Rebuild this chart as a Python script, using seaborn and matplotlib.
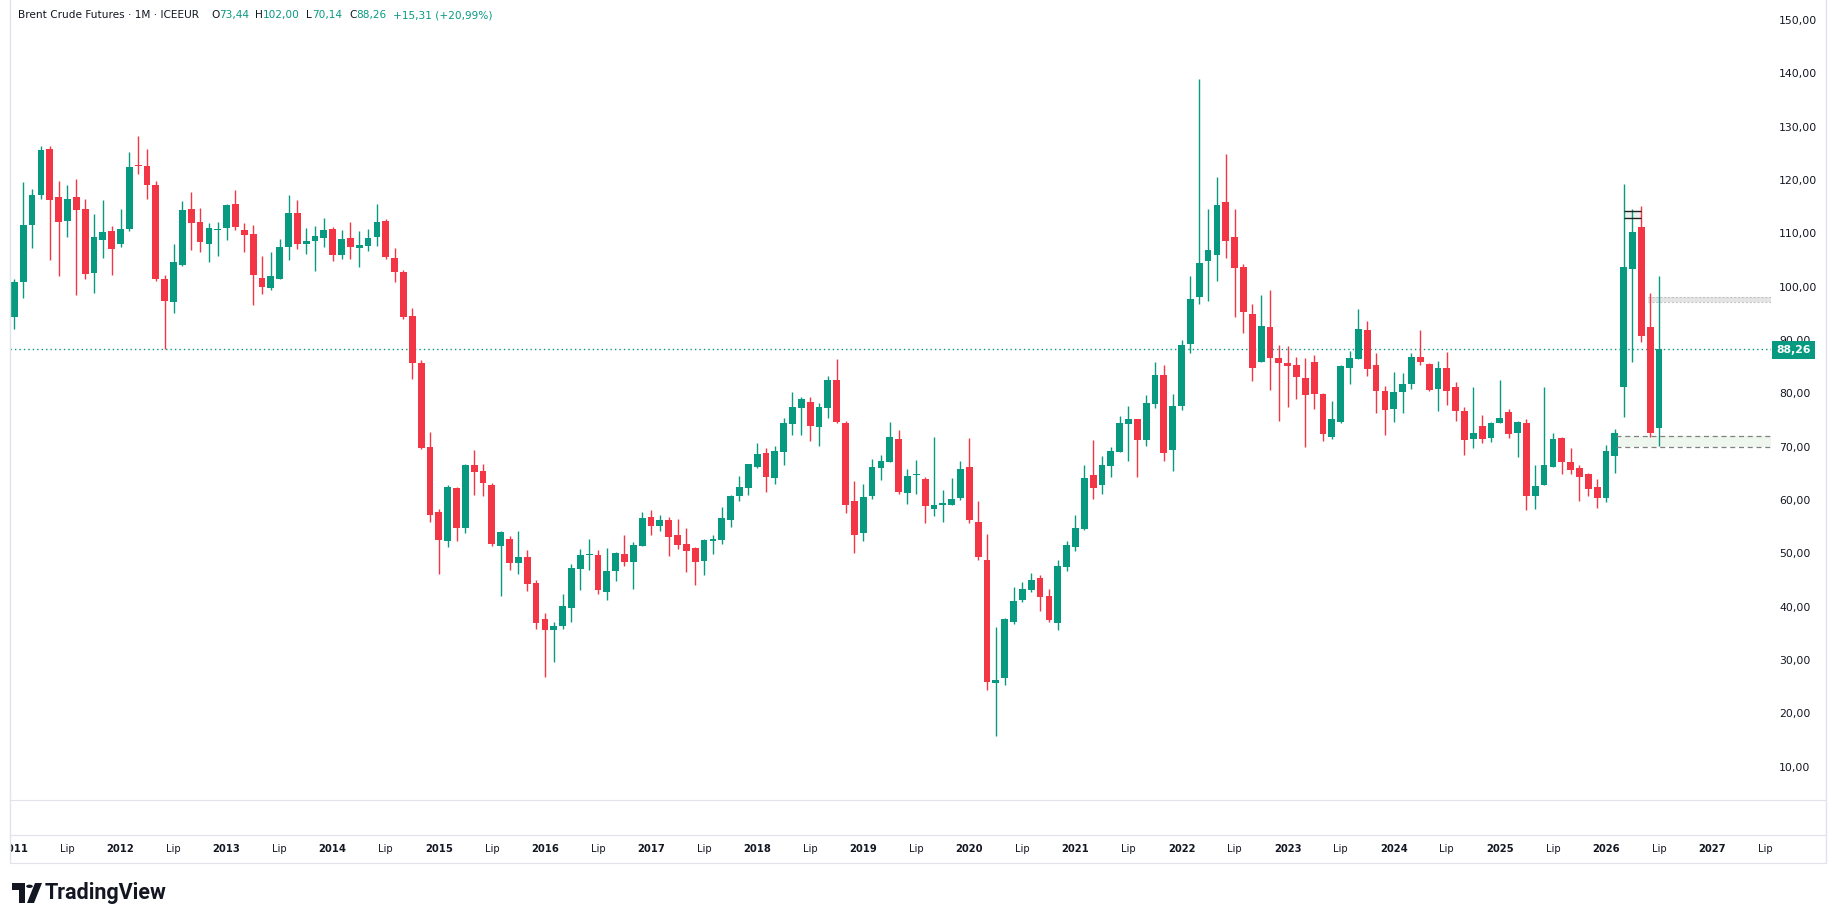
import numpy as np
import pandas as pd
import matplotlib
matplotlib.use('Agg')
import matplotlib.pyplot as plt
from matplotlib.patches import Rectangle, Polygon, Circle
import seaborn as sns

# Brent monthly candles, Jan 2011 .. Jul 2026
start_year = 2011
opens = [94.4, 100.8, 111.6, 117.2, 125.8, 116.8, 112.4, 116.8, 114.6, 102.6, 108.8, 110.4,
         108.0, 110.8, 122.9, 122.6, 119.1, 101.4, 97.1, 104.1, 114.6, 112.1, 108.0, 110.7,
         111.0, 115.5, 110.6, 109.9, 101.6, 99.8, 101.4, 107.4, 113.8, 108.0, 108.6, 109.1,
         110.8, 105.9, 109.1, 107.3, 107.6, 109.3, 112.3, 105.4, 102.8, 94.5, 85.7, 69.9,
         57.8, 52.3, 62.3, 54.8, 66.6, 65.4, 62.8, 51.3, 52.7, 48.1, 49.3, 44.4,
         37.7, 35.6, 36.3, 39.8, 47.1, 49.6, 49.7, 42.8, 46.6, 49.9, 48.4, 51.4,
         56.8, 55.1, 56.3, 53.4, 51.8, 51.0, 48.6, 52.4, 52.5, 56.3, 60.8, 62.3,
         66.2, 68.8, 64.1, 69.0, 74.3, 77.3, 78.4, 73.7, 77.3, 82.5, 74.4, 59.8,
         53.8, 60.8, 66.0, 67.1, 71.4, 61.3, 64.7, 63.9, 58.3, 59.1, 59.1, 60.4,
         66.2, 55.9, 48.8, 25.7, 26.6, 37.1, 41.3, 43.1, 45.4, 42.0, 36.9, 47.5,
         51.2, 54.6, 64.7, 62.9, 66.4, 69.0, 74.3, 75.2, 71.3, 78.0, 83.4, 69.4,
         77.6, 89.3, 98.0, 104.8, 105.9, 115.8, 109.3, 103.7, 94.9, 85.8, 92.4, 86.6,
         85.7, 85.3, 82.9, 85.9, 79.9, 71.9, 74.6, 84.8, 86.4, 91.9, 85.3, 80.4,
         77.1, 80.3, 81.8, 86.8, 85.5, 80.9, 84.8, 81.2, 76.7, 71.5, 73.9, 71.7,
         74.4, 76.5, 72.6, 74.4, 60.8, 62.8, 66.2, 71.6, 67.1, 66.0, 64.9, 62.4,
         60.4, 68.3, 81.2, 103.3, 111.2, 92.4, 73.44]
highs = [101.4, 119.6, 118.3, 126.4, 126.4, 119.8, 119.1, 120.2, 116.4, 113.6, 116.3, 111.4,
         114.6, 125.3, 128.3, 125.8, 119.8, 102.2, 108.0, 116.1, 117.8, 114.8, 111.9, 112.1,
         115.5, 118.1, 111.9, 111.6, 105.8, 106.5, 108.9, 117.2, 116.3, 111.0, 111.4, 112.9,
         111.2, 110.6, 112.1, 110.4, 110.8, 115.5, 112.7, 107.3, 103.1, 96.0, 86.2, 72.8,
         58.3, 62.8, 62.5, 66.8, 69.4, 66.8, 63.2, 54.2, 53.3, 54.2, 50.6, 45.0,
         38.8, 37.1, 42.4, 48.0, 50.8, 52.7, 50.6, 51.0, 50.3, 53.4, 52.1, 57.8,
         58.1, 57.2, 56.8, 56.4, 54.8, 51.2, 52.7, 53.4, 58.7, 60.9, 64.5, 66.8,
         70.7, 69.8, 70.1, 75.4, 80.3, 79.3, 79.3, 78.2, 83.3, 86.4, 74.8, 63.6,
         63.0, 67.7, 68.4, 74.6, 73.1, 65.8, 67.5, 64.3, 71.8, 61.9, 64.1, 67.3,
         71.6, 59.8, 53.6, 36.2, 37.9, 43.7, 44.6, 46.3, 45.9, 43.3, 48.8, 52.3,
         57.2, 66.6, 71.2, 68.2, 69.9, 75.7, 77.6, 75.2, 79.7, 85.8, 85.3, 79.9,
         90.0, 102.0, 139.0, 114.6, 120.5, 124.9, 114.6, 104.3, 96.8, 98.4, 99.4, 89.1,
         88.9, 86.8, 86.6, 87.2, 80.1, 78.6, 85.3, 87.9, 95.8, 93.6, 87.6, 81.4,
         84.0, 83.8, 87.6, 91.9, 85.7, 86.1, 87.8, 82.1, 77.5, 81.1, 75.9, 74.6,
         82.5, 77.1, 74.8, 75.2, 66.6, 81.2, 72.6, 71.8, 69.8, 66.6, 65.1, 63.9,
         70.3, 73.3, 119.3, 114.6, 115.1, 98.8, 102.0]
lows = [92.1, 97.9, 107.3, 116.5, 105.0, 102.0, 109.4, 98.4, 101.4, 98.8, 105.4, 102.2,
        107.5, 110.5, 121.1, 116.4, 101.0, 88.3, 95.1, 103.9, 106.9, 106.5, 104.6, 105.8,
        108.8, 110.6, 106.5, 96.6, 98.6, 99.4, 101.4, 105.0, 107.1, 106.1, 102.9, 107.4,
        104.8, 105.2, 105.2, 103.7, 106.7, 107.6, 105.2, 100.9, 93.9, 82.7, 69.6, 55.8,
        46.1, 51.2, 52.3, 53.8, 60.9, 60.8, 51.4, 42.0, 46.9, 46.1, 43.0, 35.9,
        26.9, 29.7, 35.9, 37.2, 43.2, 46.8, 42.4, 41.3, 44.9, 47.7, 43.4, 51.4,
        53.4, 54.2, 49.5, 50.8, 46.5, 44.1, 45.9, 49.9, 51.8, 54.9, 59.8, 60.9,
        66.0, 61.5, 63.0, 66.6, 72.2, 72.2, 71.1, 70.1, 75.4, 74.4, 57.6, 50.1,
        52.3, 60.2, 63.8, 67.1, 61.1, 59.3, 61.1, 55.7, 57.0, 55.9, 59.1, 60.0,
        55.7, 48.8, 24.4, 15.8, 25.3, 36.8, 40.9, 42.8, 39.2, 37.1, 35.6, 46.7,
        50.5, 54.4, 60.1, 61.2, 64.3, 69.0, 67.4, 64.3, 70.2, 77.3, 67.4, 65.5,
        76.9, 87.6, 96.8, 97.3, 101.1, 105.4, 94.3, 91.3, 82.3, 85.8, 80.7, 74.9,
        77.5, 79.0, 70.0, 77.1, 71.1, 71.5, 74.5, 81.8, 86.4, 83.3, 76.4, 72.1,
        74.7, 76.4, 80.9, 85.4, 80.5, 76.6, 77.9, 74.9, 68.5, 69.8, 70.6, 70.8,
        74.4, 71.6, 68.1, 58.1, 58.3, 62.8, 66.2, 64.9, 64.9, 59.8, 60.8, 58.5,
        59.6, 65.1, 75.6, 85.9, 89.6, 71.8, 70.14]
closes = [100.8, 111.6, 117.2, 125.6, 116.3, 112.2, 116.4, 114.4, 102.4, 109.3, 110.3, 107.1,
          110.8, 122.4, 122.7, 119.1, 101.4, 97.3, 104.6, 114.4, 111.9, 108.4, 111.0, 110.9,
          115.3, 111.1, 109.7, 102.1, 99.9, 102.0, 107.4, 113.8, 108.0, 108.6, 109.5, 110.6,
          105.9, 108.9, 107.4, 107.8, 109.1, 112.1, 105.6, 102.8, 94.3, 85.6, 69.8, 57.1,
          52.5, 62.4, 54.8, 66.6, 65.3, 63.2, 51.8, 54.0, 48.1, 49.3, 44.3, 37.0,
          35.7, 36.4, 40.1, 47.3, 49.7, 49.7, 43.2, 46.7, 50.1, 48.3, 51.6, 56.6,
          55.1, 56.3, 53.1, 51.6, 50.4, 48.4, 52.5, 52.6, 56.6, 60.8, 62.4, 66.8,
          68.6, 64.3, 69.2, 74.4, 77.4, 78.9, 73.9, 77.4, 82.5, 74.6, 59.1, 53.4,
          60.6, 66.2, 67.3, 71.8, 61.5, 64.5, 64.9, 58.9, 59.1, 59.4, 60.2, 65.8,
          56.3, 49.3, 25.9, 26.3, 37.7, 41.1, 43.3, 45.0, 41.8, 37.5, 47.6, 51.5,
          54.8, 64.1, 62.3, 66.6, 69.2, 74.5, 75.2, 71.3, 78.2, 83.4, 68.8, 77.6,
          89.1, 97.7, 104.5, 106.9, 115.3, 108.5, 103.5, 95.2, 84.8, 92.6, 86.6, 85.6,
          85.1, 83.1, 79.6, 79.9, 72.3, 75.2, 85.1, 86.6, 92.1, 84.6, 80.5, 76.8,
          80.3, 81.8, 86.8, 85.9, 80.7, 84.8, 80.5, 76.6, 71.3, 72.6, 71.5, 74.4,
          75.4, 72.4, 74.6, 60.8, 62.6, 66.6, 71.4, 67.1, 65.6, 64.3, 62.1, 60.4,
          69.2, 72.6, 103.7, 110.3, 90.8, 72.5, 88.26]

y_ticks = [10, 20, 30, 40, 50, 60, 70, 80, 90, 100, 110, 120, 130, 140, 150]
last_year = 2027
mid_label = 'Lip'
last_price = 88.26
header_name = 'Brent Crude Futures \u00b7 1M \u00b7 ICEEUR'
header_ohlc = [('O', '73,44'), ('H', '102,00'), ('L', '70,14'), ('C', '88,26')]
header_change = '+15,31 (+20,99%)'
# drawn levels near the right edge
grey_zone = (97.2, 98.1)
green_zone = (69.9, 72.0)
marker_zone = (112.8, 114.1)

W, H = 1835, 923
UP, DOWN = '#089981', '#F23645'
TXT = '#131722'
BORDER = '#e0e3eb'
X0, STEP = 14.4, 8.842          # pixel centre of first candle, pixels per month

sns.set_theme(style='white')
plt.rcParams['font.family'] = ['DejaVu Sans']

df = pd.DataFrame({'open': opens, 'high': highs, 'low': lows, 'close': closes})
df['idx'] = np.arange(len(df))
df['color'] = np.where(df['close'] >= df['open'], UP, DOWN)
df['body_lo'] = df[['open', 'close']].min(axis=1)
df['body_h'] = (df['close'] - df['open']).abs().clip(lower=0.2)


def px2idx(px):
    return (px - X0) / STEP


def fax(l, t, r, b):
    return fig.add_axes([l / W, 1 - b / H, (r - l) / W, (b - t) / H])


fig = plt.figure(figsize=(W / 100, H / 100), dpi=100)
fig.patch.set_facecolor('white')

# main pane
ax = fax(10, 0, 1771, 800)
ax.set_facecolor('white')
ax.vlines(df['idx'], df['low'], df['high'], colors=df['color'], linewidth=1.0, zorder=2)
ax.bar(df['idx'], df['body_h'], bottom=df['body_lo'], width=0.77, color=df['color'],
       linewidth=0, zorder=3)
ax.set_xlim(px2idx(10), px2idx(1771))
ax.set_ylim(3.75, 153.75)
for s in ax.spines.values():
    s.set_visible(False)
ax.set_xticks([])
ax.yaxis.tick_right()
ax.set_yticks(y_ticks)
ax.set_yticklabels([f'{v:.2f}'.replace('.', ',') for v in y_ticks])
ax.tick_params(axis='y', length=0, pad=5.8, labelsize=7.8, labelcolor=TXT)
ax.grid(False)

# last price line + zones
n = len(df)
ax.axhline(last_price, color=UP, linewidth=1.0, linestyle=(0, (1, 2.2)), zorder=1)
xe = px2idx(1771)
gz0 = px2idx(1648)
ax.fill_between([gz0, xe], grey_zone[0], grey_zone[1], color='#e4e4e4', linewidth=0, zorder=1)
ax.hlines(grey_zone, gz0, xe, colors='#c4c4c4', linewidth=0.8, linestyles=(0, (2, 1.5)), zorder=1)
zz0 = px2idx(1616)
ax.fill_between([zz0, xe], green_zone[0], green_zone[1], color='#eef6ee', linewidth=0, zorder=1)
ax.hlines(green_zone, zz0, xe, colors='#808080', linewidth=0.9, linestyles=(0, (4, 3)), zorder=4)
ax.fill_between([n - 5, n - 3], marker_zone[0], marker_zone[1], color='#eeeeee', linewidth=0, zorder=1)
ax.hlines(marker_zone, n - 5, n - 3, colors='#222222', linewidth=1.0, zorder=4)

# price tag
fig.patches.append(Rectangle((1772 / W, 1 - 359 / H), 43 / W, 18 / H, transform=fig.transFigure,
                             facecolor=UP, edgecolor='none', zorder=10))
fig.text(1793.5 / W, 1 - 350 / H, f'{last_price:.2f}'.replace('.', ','), color='white',
         fontsize=7.8, fontweight='bold', ha='center', va='center', zorder=11)

# time axis
tax = fax(10, 835, 1826, 863)
tax.set_xlim(px2idx(10), px2idx(1826))
tax.set_ylim(0, 1)
tax.axis('off')
for k in range((last_year - start_year + 1) * 2):
    i = k * 6
    if k % 2 == 0:
        tax.text(i, 0.5, str(start_year + k // 2), ha='center', va='center', fontsize=7.2,
                 fontweight='bold', color=TXT, clip_on=True)
    else:
        tax.text(i, 0.5, mid_label, ha='center', va='center', fontsize=7.2, color=TXT, clip_on=True)

# frame lines
for y in (800, 835, 863):
    fig.add_artist(plt.Line2D([10 / W, 1826 / W], [1 - y / H] * 2, color=BORDER, linewidth=0.8))
for x in (10, 1826):
    fig.add_artist(plt.Line2D([x / W] * 2, [1 - 863 / H, 1], color=BORDER, linewidth=1.0))

# header
renderer = fig.canvas.get_renderer()
hy = 1 - 15 / H
fig.text(18 / W, hy, header_name, color=TXT, fontsize=7.6, va='center')
for (letter, val), gx in zip(header_ohlc, [211, 255, 306, 349]):
    t = fig.text(gx / W, hy, letter, color=TXT, fontsize=7.6, va='center')
    wpx = t.get_window_extent(renderer).width
    fig.text((gx + wpx) / W, hy, val, color=UP, fontsize=7.6, va='center')
fig.text(393 / W, hy, header_change, color=UP, fontsize=7.6, va='center')

# TradingView logo
lt, lb = 883, 903
fig.patches.append(Polygon([(12 / W, 1 - lt / H), (25 / W, 1 - lt / H), (25 / W, 1 - lb / H),
                            (18.5 / W, 1 - lb / H), (18.5 / W, 1 - (lt + 6.5) / H), (12 / W, 1 - (lt + 6.5) / H)],
                           closed=True, transform=fig.transFigure, facecolor=TXT, edgecolor='none'))
fig.patches.append(Circle((29.5 / W, 1 - (lt + 3.3) / H), 3.3 / W, transform=fig.transFigure,
                          facecolor=TXT, edgecolor='none'))
fig.patches.append(Polygon([(35 / W, 1 - lt / H), (42 / W, 1 - lt / H), (34 / W, 1 - lb / H),
                            (27 / W, 1 - lb / H)], closed=True, transform=fig.transFigure,
                           facecolor=TXT, edgecolor='none'))
fig.text(45 / W, 1 - 893 / H, 'TradingView', color=TXT, fontsize=15.5, fontweight='bold',
         family=['Roboto', 'DejaVu Sans'], va='center')

fig.savefig('out.png', dpi=100, facecolor='white')
